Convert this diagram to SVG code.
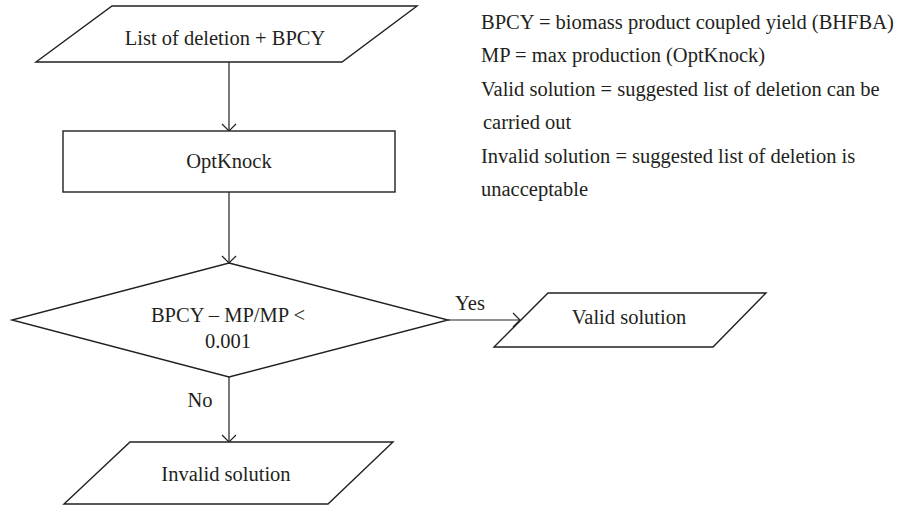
<svg xmlns="http://www.w3.org/2000/svg" width="901" height="506" viewBox="0 0 901 506">
<style>
.s{fill:#fff;stroke:#231f20;stroke-width:1.4}
.t{font-family:"Liberation Serif",serif;font-size:20.5px;fill:#231f20}
.c{text-anchor:middle}
.l{fill:none;stroke:#231f20;stroke-width:1.2}
</style>
<defs>
<marker id="ah" markerWidth="16" markerHeight="16" refX="8" refY="8" orient="auto" markerUnits="userSpaceOnUse">
<path d="M1,1 L8,8 L1,15" fill="none" stroke="#231f20" stroke-width="1.2"/>
</marker>
</defs>
<rect width="901" height="506" fill="#fff"/>
<g id="connectors">
<line class="l" x1="229" y1="62" x2="229" y2="131" marker-end="url(#ah)"/>
<line class="l" x1="229" y1="192" x2="229" y2="263" marker-end="url(#ah)"/>
<line class="l" x1="448" y1="320" x2="520" y2="320" marker-end="url(#ah)"/>
<line class="l" x1="229" y1="377" x2="229" y2="442" marker-end="url(#ah)"/>
<text class="t" x="470" y="310" text-anchor="middle">Yes</text>
<text class="t" x="200" y="407" text-anchor="middle">No</text>
</g>
<g id="input">
<polygon class="s" points="112,6 417,6 342,62 36,62"/>
<text class="t c" x="225" y="45">List of deletion + BPCY</text>
</g>
<g id="optknock">
<rect class="s" x="63" y="131" width="332" height="61"/>
<text class="t c" x="229" y="168">OptKnock</text>
</g>
<g id="decision">
<polygon class="s" points="229,263 448,320 229,377 12,320"/>
<text class="t c" x="228" y="322">BPCY – MP/MP &lt;</text>
<text class="t c" x="228" y="348">0.001</text>
</g>
<g id="valid">
<polygon class="s" points="548,293 766,293 713,347 494,347"/>
<text class="t c" x="629" y="324">Valid solution</text>
</g>
<g id="invalid">
<polygon class="s" points="130,442 393,442 328,504 64,504"/>
<text class="t c" x="226" y="481">Invalid solution</text>
</g>
<g id="legend">
<text class="t" x="481" y="29">BPCY = biomass product coupled yield (BHFBA)</text>
<text class="t" x="481" y="62">MP = max production (OptKnock)</text>
<text class="t" x="481" y="96">Valid solution = suggested list of deletion can be</text>
<text class="t" x="483" y="129">carried out</text>
<text class="t" x="481" y="163">Invalid solution = suggested list of deletion is</text>
<text class="t" x="481" y="196">unacceptable</text>
</g>
</svg>
